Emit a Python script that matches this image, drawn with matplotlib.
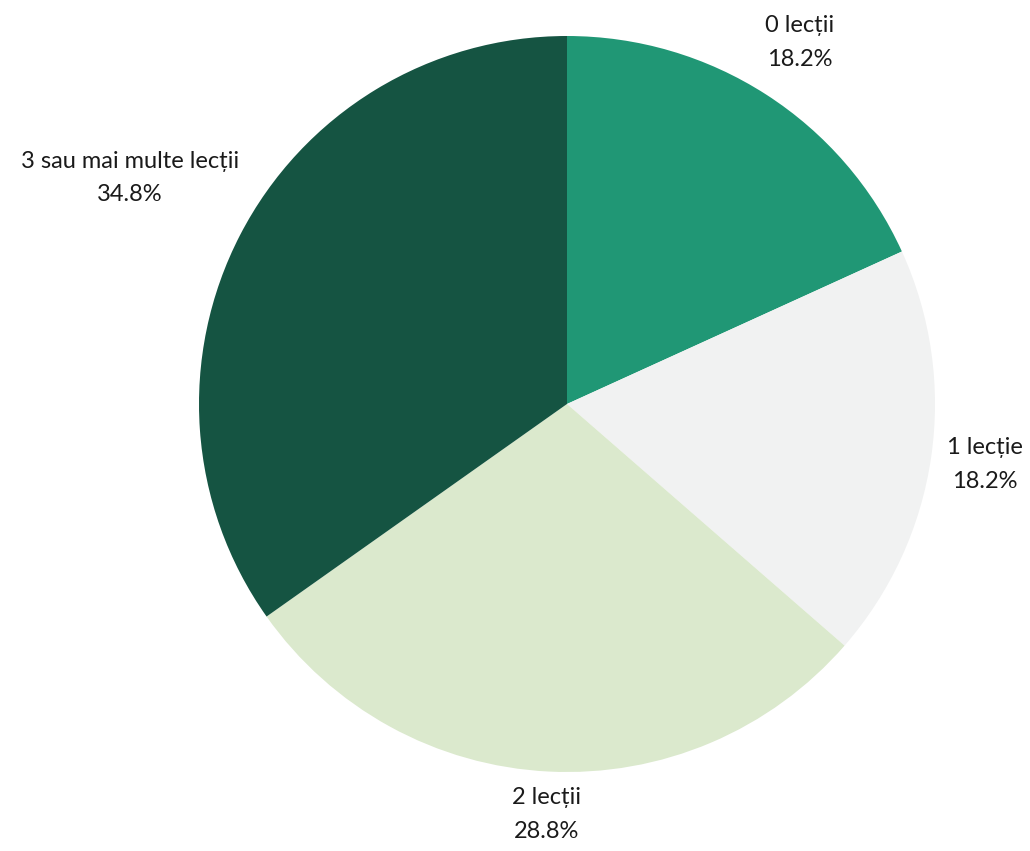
import numpy as np
import matplotlib.pyplot as plt

# Data
categories = ['0 lecții', '1 lecție', '2 lecții', '3 sau mai multe lecții']
shares = [18.2, 18.2, 28.8, 34.8]
colors = ['#209775', '#f1f2f2', '#dbe9cd', '#155442']

plt.rcParams['font.family'] = ['Lato', 'DejaVu Sans']

fig = plt.figure(figsize=(10.3, 8.51), dpi=100)
ax = fig.add_axes([0, 0, 1, 1])

cx, cy, r = 567, 851 - 404, 368
wedges, _ = ax.pie(shares, colors=colors, startangle=90, counterclock=False,
                   center=(cx, cy), radius=r, frame=True,
                   wedgeprops=dict(linewidth=0))
ax.set_xlim(0, 1030)
ax.set_ylim(0, 851)
ax.set_aspect('equal')
ax.axis('off')

# label distance from centre (pixels), per slice
label_dist = [430, 422, 411, 492]
for w, name, val, d in zip(wedges, categories, shares, label_dist):
    ang = np.deg2rad((w.theta1 + w.theta2) / 2)
    x = cx + d * np.cos(ang)
    y = cy + d * np.sin(ang)
    ax.text(x, y, f'{name}\n{val}%', ha='center', va='center',
            fontsize=17, linespacing=1.75, color='#1a1a1a')

fig.savefig('out.png', dpi=100)
